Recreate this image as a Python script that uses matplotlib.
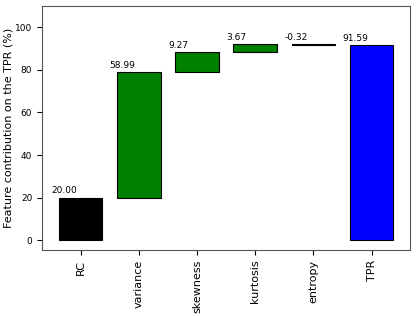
import matplotlib
matplotlib.use("Agg")
import matplotlib.pyplot as plt
import numpy as np

# Waterfall data: baseline, feature contributions, final TPR
labels = ["RC", "variance", "skewness", "kurtosis", "entropy", "TPR"]
contrib = [20.00, 58.99, 9.27, 3.67, -0.32, 91.59]
colors = ["black", "green", "green", "green", "red", "blue"]

# Bottoms: the first and last bars start at 0, the rest stack on the running total
bottoms = [0.0]
running = contrib[0]
for c in contrib[1:-1]:
    bottoms.append(running if c >= 0 else running + c)
    running += c
bottoms.append(0.0)
heights = [abs(c) for c in contrib]

fig = plt.figure(figsize=(4.16, 3.16), dpi=100)
ax = fig.add_axes([0.101, 0.209, 0.885, 0.772])

x = np.arange(len(labels))
ax.bar(x, heights, bottom=bottoms, width=0.75, color=colors, edgecolor="black", linewidth=0.8)

# Value labels above each bar, starting half a unit left of the tick
for i, c in enumerate(contrib):
    top = bottoms[i] + heights[i]
    ax.text(x[i] - 0.5, top + 1.0, f"{c:.2f}", ha="left", va="bottom", fontsize=6.5)

ax.set_xticks(x)
ax.set_xticklabels(labels, rotation=90, fontsize=8)
ax.set_yticks([0, 20, 40, 60, 80, 100])
ax.tick_params(axis="y", labelsize=6.5)
ax.set_ylim(-4.6, 110)
ax.set_ylabel("Feature contribution on the TPR (%)", fontsize=8, labelpad=1)

for sp in ax.spines.values():
    sp.set_color("#555555")

fig.savefig("out.png", dpi=100)
